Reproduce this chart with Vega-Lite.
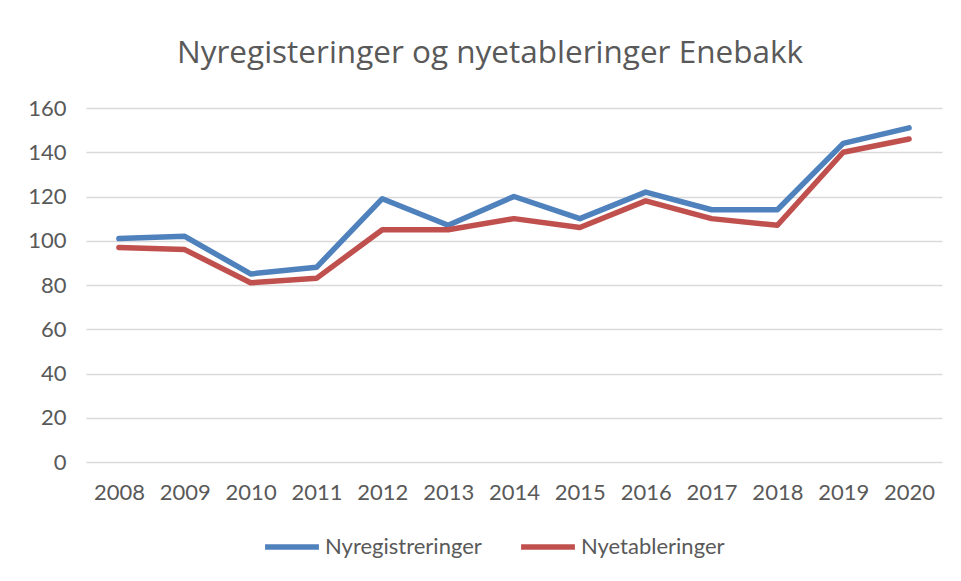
{
  "$schema": "https://vega.github.io/schema/vega-lite/v6.json",
  "autosize": "none",
  "width": 856,
  "height": 354,
  "padding": {"left": 86, "top": 108, "right": 19, "bottom": 119},
  "background": "white",
  "title": {
    "text": "Nyregisteringer og nyetableringer Enebakk",
    "font": "Open Sans",
    "fontSize": 31.5,
    "fontWeight": "normal",
    "color": "#595959",
    "anchor": "middle",
    "dx": -24,
    "offset": 28
  },
  "data": {
    "values": [
      {"year": "2008", "serie": "Nyregistreringer", "value": 101},
      {"year": "2009", "serie": "Nyregistreringer", "value": 102},
      {"year": "2010", "serie": "Nyregistreringer", "value": 85},
      {"year": "2011", "serie": "Nyregistreringer", "value": 88},
      {"year": "2012", "serie": "Nyregistreringer", "value": 119},
      {"year": "2013", "serie": "Nyregistreringer", "value": 107},
      {"year": "2014", "serie": "Nyregistreringer", "value": 120},
      {"year": "2015", "serie": "Nyregistreringer", "value": 110},
      {"year": "2016", "serie": "Nyregistreringer", "value": 122},
      {"year": "2017", "serie": "Nyregistreringer", "value": 114},
      {"year": "2018", "serie": "Nyregistreringer", "value": 114},
      {"year": "2019", "serie": "Nyregistreringer", "value": 144},
      {"year": "2020", "serie": "Nyregistreringer", "value": 151},
      {"year": "2008", "serie": "Nyetableringer", "value": 97},
      {"year": "2009", "serie": "Nyetableringer", "value": 96},
      {"year": "2010", "serie": "Nyetableringer", "value": 81},
      {"year": "2011", "serie": "Nyetableringer", "value": 83},
      {"year": "2012", "serie": "Nyetableringer", "value": 105},
      {"year": "2013", "serie": "Nyetableringer", "value": 105},
      {"year": "2014", "serie": "Nyetableringer", "value": 110},
      {"year": "2015", "serie": "Nyetableringer", "value": 106},
      {"year": "2016", "serie": "Nyetableringer", "value": 118},
      {"year": "2017", "serie": "Nyetableringer", "value": 110},
      {"year": "2018", "serie": "Nyetableringer", "value": 107},
      {"year": "2019", "serie": "Nyetableringer", "value": 140},
      {"year": "2020", "serie": "Nyetableringer", "value": 146}
    ]
  },
  "mark": {"type": "line", "strokeWidth": 5.5, "strokeCap": "round", "strokeJoin": "round"},
  "encoding": {
    "x": {
      "field": "year",
      "type": "ordinal",
      "scale": {"type": "point", "padding": 0.5},
      "axis": {
        "title": null,
        "labelAngle": 0,
        "domain": false,
        "ticks": false,
        "labelPadding": 20,
        "labelFont": "Lato",
        "labelFontSize": 22,
        "labelColor": "#595959"
      }
    },
    "y": {
      "field": "value",
      "type": "quantitative",
      "scale": {"domain": [0, 160]},
      "axis": {
        "title": null,
        "values": [0, 20, 40, 60, 80, 100, 120, 140, 160],
        "domain": false,
        "ticks": false,
        "labelPadding": 20,
        "labelFont": "Lato",
        "labelFontSize": 22,
        "labelColor": "#595959",
        "gridColor": "#d9d9d9",
        "gridWidth": 1.5
      }
    },
    "color": {
      "field": "serie",
      "type": "nominal",
      "sort": ["Nyregistreringer", "Nyetableringer"],
      "scale": {"domain": ["Nyregistreringer", "Nyetableringer"], "range": ["#4f81bd", "#c0504d"]},
      "legend": {
        "title": null,
        "orient": "none",
        "direction": "horizontal",
        "legendX": 176,
        "legendY": 409,
        "symbolType": "stroke",
        "symbolSize": 2900,
        "symbolStrokeWidth": 5.5,
        "labelOffset": 3,
        "columnPadding": 28,
        "labelFont": "Lato",
        "labelFontSize": 22,
        "labelColor": "#595959"
      }
    }
  },
  "config": {"view": {"stroke": null}}
}
